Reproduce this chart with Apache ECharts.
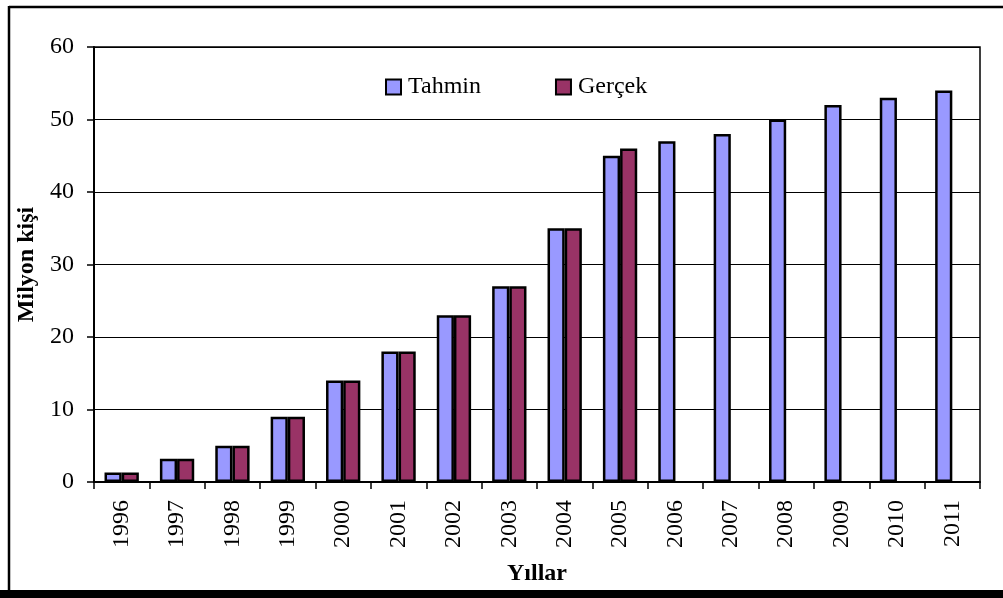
<!DOCTYPE html>
<html>
<head>
<meta charset="utf-8">
<script src="https://cdn.jsdelivr.net/npm/echarts@6/dist/echarts.min.js"></script>
<style>
  html, body { margin: 0; padding: 0; background: #fff; }
  #chart { width: 1003px; height: 598px; }
</style>
</head>
<body>
<div id="chart"></div>
<script>
// Yıllara göre tahmin edilen ve gerçekleşen değerler (milyon kişi)
const years = ['1996', '1997', '1998', '1999', '2000', '2001', '2002', '2003',
               '2004', '2005', '2006', '2007', '2008', '2009', '2010', '2011'];
const tahmin = [1.3, 3.2, 5, 9, 14, 18, 23, 27, 35, 45, 47, 48, 50, 52, 53, 54];
const gercek = [1.3, 3.2, 5, 9, 14, 18, 23, 27, 35, 46, null, null, null, null, null, null];
const yTicks = { min: 0, max: 60, interval: 10 };

const FONT = '"Liberation Serif", "Times New Roman", serif';

const chart = echarts.init(document.getElementById('chart'), null, { renderer: 'canvas' });

chart.setOption({
  animation: false,
  backgroundColor: '#ffffff',
  textStyle: { fontFamily: FONT, color: '#000' },
  grid: {
    left: 94, right: 23, top: 47, bottom: 116,
    show: true, borderColor: '#000', borderWidth: 1.5, backgroundColor: 'transparent'
  },
  legend: {
    left: 385, top: 75, padding: 0,
    icon: 'rect',
    itemWidth: 15, itemHeight: 15, itemGap: 74,
    textStyle: { fontFamily: FONT, fontSize: 24, color: '#000', padding: [0, 0, 0, 2] },
    data: ['Tahmin', 'Gerçek']
  },
  xAxis: {
    type: 'category',
    data: years,
    name: 'Yıllar',
    nameLocation: 'middle',
    nameGap: 80,
    nameTextStyle: { fontFamily: FONT, fontSize: 24, fontWeight: 'bold', color: '#000' },
    axisLine: { lineStyle: { color: '#000', width: 2 } },
    axisTick: { show: true, interval: 0, length: 7, lineStyle: { color: '#000', width: 1.5 } },
    axisLabel: { rotate: 90, margin: 18, interval: 0, fontFamily: FONT, fontSize: 24, color: '#000' }
  },
  yAxis: {
    type: 'value',
    min: yTicks.min, max: yTicks.max, interval: yTicks.interval,
    name: 'Milyon kişi',
    nameLocation: 'middle',
    nameGap: 45,
    nameTextStyle: { fontFamily: FONT, fontSize: 24, fontWeight: 'bold', color: '#000' },
    axisLine: { show: true, lineStyle: { color: '#000', width: 2 } },
    axisTick: { show: true, length: 7, lineStyle: { color: '#000', width: 1.5 } },
    axisLabel: { margin: 20, fontFamily: FONT, fontSize: 24, color: '#000' },
    splitLine: { show: true, lineStyle: { color: '#000', width: 1 } }
  },
  series: [
    {
      name: 'Tahmin', type: 'bar', data: tahmin,
      barGap: '0%', barCategoryGap: '38%',
      itemStyle: { color: '#9999FF', borderColor: '#000', borderWidth: 2.5 }
    },
    {
      name: 'Gerçek', type: 'bar', data: gercek,
      itemStyle: { color: '#993366', borderColor: '#000', borderWidth: 2.5 }
    }
  ],
  graphic: [
    // outer frame of the chart area
    { type: 'line', shape: { x1: 9, y1: 7, x2: 1003, y2: 7 }, style: { stroke: '#000', lineWidth: 2.5 } },
    { type: 'line', shape: { x1: 9, y1: 6, x2: 9, y2: 598 }, style: { stroke: '#000', lineWidth: 2.5 } },
    { type: 'rect', shape: { x: 0, y: 590, width: 1003, height: 8 }, style: { fill: '#000' } }
  ]
});
</script>
</body>
</html>
